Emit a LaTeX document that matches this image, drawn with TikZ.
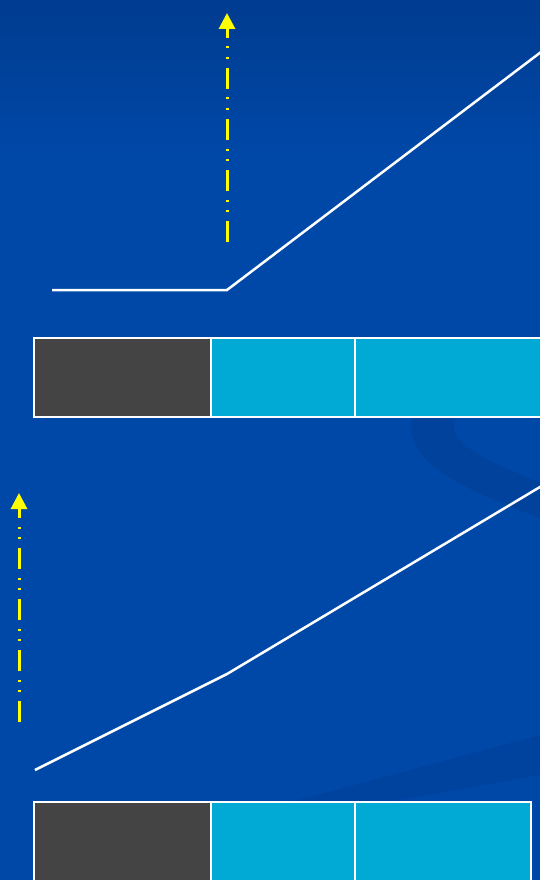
\documentclass[tikz,border=0pt]{standalone}
\usetikzlibrary{positioning,arrows.meta}

\definecolor{slideblue}{HTML}{0048A8}
\definecolor{slidetop}{HTML}{003C90}
\definecolor{darkseg}{HTML}{444444}
\definecolor{cyanseg}{HTML}{00AAD5}
\definecolor{axisyellow}{HTML}{FFFF00}

\tikzset{
    segbox/.style={draw=white, line width=2.5pt, anchor=north west,
        minimum height=79pt, inner sep=0pt, outer sep=0pt},
    usedseg/.style={segbox, fill=darkseg},
    freeseg/.style={segbox, fill=cyanseg},
    curve/.style={draw=white, line width=2.5pt, line join=miter},
    axisarrow/.style={draw=axisyellow, line width=3pt,
        dash pattern=on 21pt off 9pt on 2pt off 8.5pt on 2pt off 8.5pt,
        -{Triangle[width=16pt,length=16pt]}},
}

\begin{document}
\begin{tikzpicture}[x=1pt, y=-1pt]
    % background
    \useasboundingbox (0,0) rectangle (540,880);
    \fill[slideblue] (0,0) rectangle (540,880);
    \shade[top color=slidetop, bottom color=slideblue] (0,0) rectangle (540,160);
    \fill[black, opacity=0.07] (412,418) .. controls (400,462) and (470,492) .. (540,518)
        -- (540,482) .. controls (478,458) and (445,440) .. (456,418) -- cycle;
    \fill[black, opacity=0.06] (290,802) -- (540,735) -- (540,775) -- (390,802) -- cycle;

    % upper panel
    \node[usedseg, minimum width=177pt] (topA) at (34,338) {};
    \node[freeseg, minimum width=144pt, right=0pt of topA] (topB) {};
    \node[freeseg, minimum width=200pt, right=0pt of topB] (topC) {};

    \coordinate (topStart) at (52,290);
    \coordinate (topKnee) at (227,290);
    \coordinate (topEnd) at (545,49);
    \draw[curve] (topStart) -- (topKnee) -- (topEnd);

    \coordinate (topAxisFoot) at (227,242);
    \coordinate (topAxisTip) at (227,13);
    \draw[axisarrow] (topAxisFoot) -- (topAxisTip);

    % lower panel
    \node[usedseg, minimum width=177pt] (lowA) at (34,802) {};
    \node[freeseg, minimum width=144pt, right=0pt of lowA] (lowB) {};
    \node[freeseg, minimum width=176pt, right=0pt of lowB] (lowC) {};

    \coordinate (lowStart) at (35,770);
    \coordinate (lowKnee) at (227,674);
    \coordinate (lowEnd) at (545,484);
    \draw[curve] (lowStart) -- (lowKnee) -- (lowEnd);

    \coordinate (lowAxisFoot) at (19,722);
    \coordinate (lowAxisTip) at (19,493);
    \draw[axisarrow] (lowAxisFoot) -- (lowAxisTip);
\end{tikzpicture}
\end{document}
